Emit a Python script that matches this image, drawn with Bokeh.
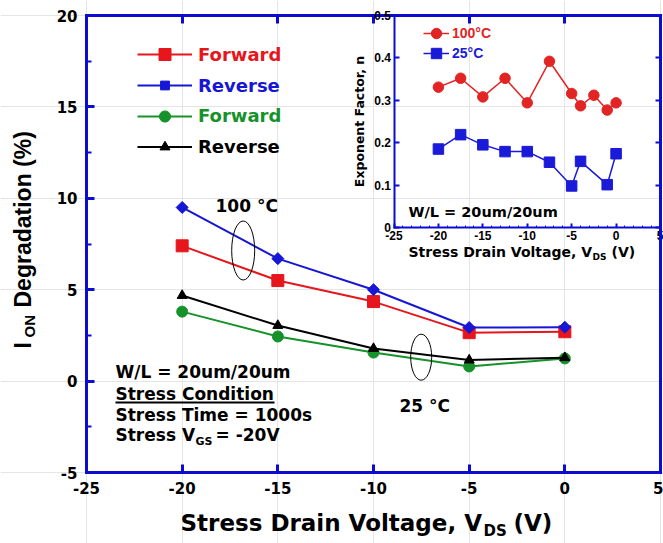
from bokeh.plotting import figure
from bokeh.models import (Range1d, LinearAxis, FixedTicker, Label, Legend, LegendItem,
                          BoxAnnotation, CustomJSTickFormatter)
from bokeh.embed import file_html
from bokeh.resources import INLINE

# ---------------- data ----------------
vds = [-20, -15, -10, -5, 0]
fwd_100c = [7.40, 5.50, 4.35, 2.65, 2.70]
rev_100c = [9.50, 6.70, 5.00, 2.93, 2.95]
fwd_25c = [3.80, 2.44, 1.56, 0.80, 1.24]
rev_25c = [4.68, 3.04, 1.78, 1.15, 1.28]

inset_vds_100c = [-20, -17.5, -15, -12.5, -10, -7.5, -5, -4, -2.5, -1, 0]
inset_n_100c = [0.331, 0.352, 0.308, 0.352, 0.294, 0.392, 0.316, 0.287, 0.312, 0.277, 0.294]
inset_vds_25c = [-20, -17.5, -15, -12.5, -10, -7.5, -5, -4, -1, 0]
inset_n_25c = [0.185, 0.219, 0.195, 0.179, 0.179, 0.154, 0.098, 0.156, 0.101, 0.174]

legend_labels = ["Forward", "Reverse", "Forward", "Reverse"]
inset_legend_labels = ["100°C", "25°C"]

x_ticks = [-25, -20, -15, -10, -5, 0, 5]
y_ticks = [-5, 0, 5, 10, 15, 20]
y_minor = [-2.5, 2.5, 7.5, 12.5, 17.5]
inset_x_ticks = [-25, -20, -15, -10, -5, 0, 5]
inset_x_minor = list(range(-25, 6))
inset_y_ticks = [0, 0.1, 0.2, 0.3, 0.4, 0.5]

# ---------------- layout ----------------
W, H = 663, 543
FL, FR, FT, FB = 86, 660, 15, 472          # main axes box (canvas px)
X0, X1, Y0, Y1 = -25, 5, -5, 20
IXL, IYB = 393.5, 227                       # inset left / bottom edges (canvas px)
IX0, IX1, IY0, IY1 = -25, 5, 0, 0.5

sx_main = (FR - FL) / (X1 - X0)
sy_main = (FB - FT) / (Y1 - Y0)
sx_in = (FR - IXL) / (IX1 - IX0)
sy_in = (IYB - FT) / (IY1 - IY0)
# the plotting frame covers the whole canvas; axes are placed at fixed locations
mx_start = X0 - FL / sx_main
mx_end = X1 + (W - FR) / sx_main
my_start = Y0 - (H - FB) / sy_main
my_end = Y1 + FT / sy_main
ix_start = IX0 - IXL / sx_in
ix_end = IX1 + (W - FR) / sx_in
iy_start = IY0 - (H - IYB) / sy_in
iy_end = IY1 + FT / sy_in


def mx(c):
    return mx_start + c / sx_main


def my(c):
    return my_start + (H - c) / sy_main


FRAME = "#0c0cd0"
RED = "#e6161c"
BLUE = "#1616d4"
GREEN = "#16922a"
BLACK = "#000000"
IRED = "#e22424"
IBLUE = "#1a1ad8"
SPACED = "DejaVu Sans"
PLAIN = "Liberation Sans"

p = figure(width=W, height=H, x_range=Range1d(mx_start, mx_end),
           y_range=Range1d(my_start, my_end),
           output_backend="svg", toolbar_location=None,
           x_axis_location=None, y_axis_location=None, min_border=0)
p.extra_x_ranges = {"ix": Range1d(ix_start, ix_end)}
p.extra_y_ranges = {"iy": Range1d(iy_start, iy_end)}
p.outline_line_color = None
p.background_fill_color = "white"
p.border_fill_color = "white"

empty = CustomJSTickFormatter(code="return ''")
plain_int = CustomJSTickFormatter(code="return String(Math.round(tick))")
inset_fmt = CustomJSTickFormatter(code="return tick == 0 ? '0' : tick.toFixed(1)")


def style_axis(a, tick_in, minor_in, lw, font, size, color=FRAME, standoff=8):
    a.axis_line_color = color
    a.axis_line_width = lw
    a.axis_line_cap = "square"
    a.major_tick_in = tick_in
    a.major_tick_out = 0
    a.major_tick_line_color = color if tick_in else None
    a.major_tick_line_width = lw
    if minor_in:
        a.minor_tick_in = minor_in
        a.minor_tick_out = 0
        a.minor_tick_line_color = color
        a.minor_tick_line_width = max(1, lw - 1)
    else:
        a.minor_tick_line_color = None
    a.major_label_text_font = font
    a.major_label_text_font_style = "bold"
    a.major_label_text_font_size = f"{size}px"
    a.major_label_text_color = "black"
    a.major_label_standoff = standoff


# main axes box
ax_b = LinearAxis(fixed_location=Y0, bounds=(X0, X1),
                  ticker=FixedTicker(ticks=x_ticks, minor_ticks=[]), formatter=plain_int)
style_axis(ax_b, 8, 0, 3, SPACED, 15, standoff=9)
p.add_layout(ax_b, "below")

ax_l = LinearAxis(fixed_location=X0, bounds=(Y0, Y1),
                  ticker=FixedTicker(ticks=y_ticks, minor_ticks=y_minor), formatter=plain_int)
style_axis(ax_l, 8, 5, 3, SPACED, 15, standoff=9)
p.add_layout(ax_l, "left")

ax_t = LinearAxis(fixed_location=Y1, bounds=(X0, X1),
                  ticker=FixedTicker(ticks=x_ticks, minor_ticks=[]), formatter=empty)
style_axis(ax_t, 8, 0, 3, SPACED, 1)
p.add_layout(ax_t, "above")

ax_r = LinearAxis(fixed_location=X1, bounds=(Y0, Y1),
                  ticker=FixedTicker(ticks=y_ticks, minor_ticks=[]), formatter=empty)
style_axis(ax_r, 0, 0, 3, SPACED, 1)
p.add_layout(ax_r, "right")

# inset axes
il = LinearAxis(x_range_name="ix", y_range_name="iy", fixed_location=IX0, bounds=(IY0, IY1),
                ticker=FixedTicker(ticks=inset_y_ticks, minor_ticks=[]), formatter=inset_fmt)
style_axis(il, 5, 0, 2, PLAIN, 12, standoff=3)
p.add_layout(il, "left")

ib = LinearAxis(x_range_name="ix", y_range_name="iy", fixed_location=IY0, bounds=(IX0, IX1),
                ticker=FixedTicker(ticks=inset_x_ticks, minor_ticks=inset_x_minor),
                formatter=plain_int)
style_axis(ib, 4, 2, 2, PLAIN, 12, standoff=3)
p.add_layout(ib, "below")

ir = LinearAxis(x_range_name="ix", y_range_name="iy", fixed_location=IX1, bounds=(IY0, IY1),
                ticker=FixedTicker(ticks=inset_y_ticks, minor_ticks=[]), formatter=empty)
style_axis(ir, 5, 0, 2, PLAIN, 1)
ir.axis_line_color = None
p.add_layout(ir, "right")

# ---------------- main series ----------------
series = [
    (fwd_100c, RED, "square", 12, 0.0),
    (rev_100c, BLUE, "square", 8.5, 0.785398),
    (fwd_25c, GREEN, "circle", 11, 0.0),
    (rev_25c, BLACK, "triangle", 10, 0.0),
]
rows = [54, 85, 115.5, 146]
gh = [30, 22, 28, 25]
for (vals, col, mk, sz, ang), lab, cy, g in zip(series, legend_labels, rows, gh):
    lr = p.line(vds, vals, line_color=col, line_width=2)
    sr = p.scatter(vds, vals, marker=mk, size=sz, angle=ang, fill_color=col, line_color=col)
    leg = Legend(items=[LegendItem(label=lab, renderers=[lr, sr])],
                 location=(137, H - (cy + g / 2)),
                 glyph_width=55, glyph_height=g, label_standoff=6, label_height=g,
                 label_text_font=SPACED, label_text_font_style="bold",
                 label_text_font_size="18px", label_text_color=col,
                 padding=0, margin=0, spacing=0, border_line_color=None,
                 background_fill_alpha=0)
    p.add_layout(leg)

# ---------------- inset series ----------------
inset_series = [
    (inset_vds_100c, inset_n_100c, IRED, "circle", 10.5),
    (inset_vds_25c, inset_n_25c, IBLUE, "square", 10.5),
]
irows = [33, 53]
for (xs, ys, col, mk, sz), lab, cy in zip(inset_series, inset_legend_labels, irows):
    lr = p.line(xs, ys, x_range_name="ix", y_range_name="iy", line_color=col, line_width=1.5)
    sr = p.scatter(xs, ys, x_range_name="ix", y_range_name="iy", marker=mk, size=sz,
                   fill_color=col, line_color=col)
    leg = Legend(items=[LegendItem(label=lab, renderers=[lr, sr])],
                 location=(423, H - (cy + 13)),
                 glyph_width=26, glyph_height=26, label_standoff=3, label_height=26,
                 label_text_font=PLAIN, label_text_font_style="bold",
                 label_text_font_size="14px", label_text_color=col,
                 padding=0, margin=0, spacing=0, border_line_color=None,
                 background_fill_alpha=0)
    p.add_layout(leg)

# ---------------- annotations ----------------
ell_cx = [242.7, 420.7]
ell_cy = [250, 356.7]
ell_w = [23, 21]
ell_h = [59, 46]
p.ellipse(x=[mx(c) for c in ell_cx], y=[my(c) for c in ell_cy],
          width=[w / sx_main for w in ell_w], height=[h / sy_main for h in ell_h],
          fill_color=None, line_color="black", line_width=1)


def text(cx, cy, s, size, color="black", font=SPACED, angle=0, align="left"):
    """cx: left edge, cy: vertical middle of the capitals (canvas px)."""
    p.add_layout(Label(x=mx(cx), y=my(cy), text=s, text_font=font,
                       text_font_size=f"{size}px", text_font_style="bold",
                       text_color=color, angle=angle, angle_units="deg",
                       text_align=align, text_baseline="middle"))


text(215, 205, "100 °C", 17)
text(399, 405.5, "25 °C", 17)

text(115, 371.5, "W/L = 20um/20um", 17)
text(115, 393, "Stress Condition", 17)
p.add_layout(BoxAnnotation(left=mx(115), right=mx(274), top=my(401), bottom=my(403),
                           fill_color="black", fill_alpha=1, line_color=None))
text(115, 414, "Stress Time = 1000s", 17)
text(115, 434.5, "Stress V", 17)
text(195, 441, "GS", 11)
text(215, 434.5, "= -20V", 17)

# main x axis title
text(180, 522, "Stress Drain Voltage, V", 23)
text(483, 530, "DS", 15)
text(513, 522, "(V)", 23)

# main y axis title (rotated)
text(22, 348, "I", 23, font=PLAIN, angle=90)
text(29, 337, "ON", 15, font=PLAIN, angle=90)
text(22, 307, "Degradation (%)", 23, font=PLAIN, angle=90)

# inset texts
text(408, 211, "W/L = 20um/20um", 14.5)
text(408, 251.5, "Stress Drain Voltage, V", 14)
text(592, 256, "DS", 9)
text(611, 251.5, "(V)", 14)
text(359, 121, "Exponent Factor, n", 12.5, angle=90, align="center")

open("out.html", "w").write(file_html(p, INLINE))
